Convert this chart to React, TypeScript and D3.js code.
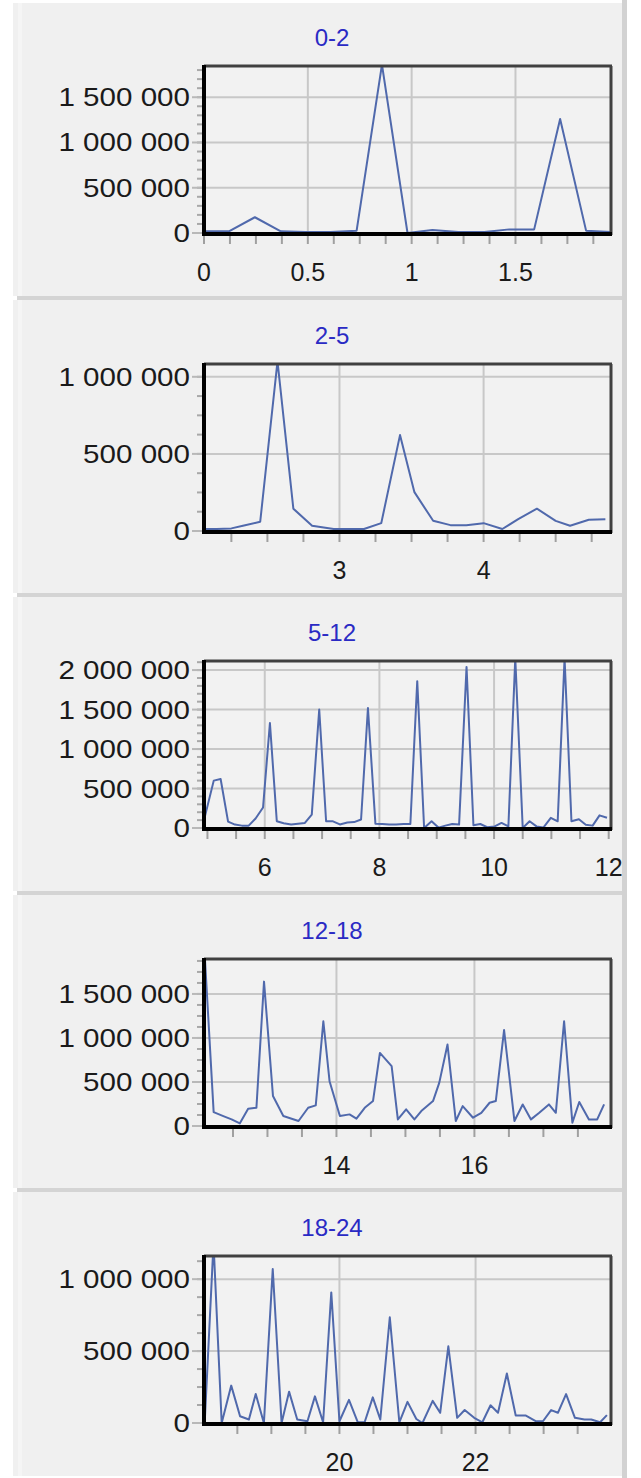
import React from "react";
import * as d3 from "d3";

// ---------- data (hours of day -> value) ----------
const TITLES = ["0-2", "2-5", "5-12", "12-18", "18-24"];

const hours1 = [0, 0.12, 0.245, 0.37, 0.49, 0.61, 0.735, 0.857, 0.98, 1.1, 1.225, 1.35, 1.47, 1.59, 1.715, 1.84, 1.96];
const vals1 = [18000, 18000, 174000, 18000, 10000, 10000, 26000, 1860000, 0, 33000, 10000, 10000, 40000, 40000, 1260000, 26000, 10000];

const hours2 = [2.06, 2.148, 2.25, 2.33, 2.45, 2.57, 2.68, 2.81, 2.96, 3.05, 3.17, 3.29, 3.42, 3.52, 3.65, 3.77, 3.88, 4.0, 4.13, 4.24, 4.37, 4.5, 4.6, 4.73, 4.845];
const vals2 = [13000, 13000, 17000, 34000, 60000, 1100000, 145000, 34000, 13000, 13000, 13000, 51000, 622000, 252000, 66000, 38000, 38000, 51000, 13000, 77000, 145000, 66000, 34000, 73000, 77000];

const hours3 = [4.95, 5.11, 5.23, 5.36, 5.48, 5.6, 5.72, 5.84, 5.97, 6.09, 6.21, 6.33, 6.46, 6.58, 6.7, 6.82, 6.95, 7.07, 7.19, 7.31, 7.44, 7.56, 7.68, 7.8, 7.93, 8.05, 8.17, 8.29, 8.42, 8.54, 8.66, 8.78, 8.91, 9.03, 9.15, 9.27, 9.39, 9.52, 9.64, 9.76, 9.88, 10.01, 10.13, 10.25, 10.37, 10.5, 10.62, 10.74, 10.86, 10.99, 11.11, 11.23, 11.35, 11.48, 11.6, 11.72, 11.84, 11.97];
const vals3 = [130000, 600000, 620000, 80000, 43000, 30000, 30000, 120000, 260000, 1330000, 85000, 60000, 43000, 55000, 64000, 170000, 1500000, 85000, 85000, 45000, 70000, 75000, 107000, 1520000, 55000, 50000, 43000, 45000, 50000, 51000, 1860000, 0, 85000, 5000, 30000, 51000, 43000, 2040000, 34000, 51000, 10000, 20000, 64000, 21000, 2150000, 0, 85000, 20000, 5000, 128000, 85000, 2150000, 85000, 110000, 40000, 30000, 160000, 130000];

const hours4 = [12.09, 12.22, 12.36, 12.48, 12.6, 12.72, 12.84, 12.95, 13.08, 13.23, 13.45, 13.59, 13.7, 13.81, 13.9, 14.05, 14.19, 14.29, 14.41, 14.53, 14.63, 14.8, 14.89, 15.01, 15.13, 15.23, 15.4, 15.49, 15.61, 15.73, 15.83, 15.98, 16.1, 16.22, 16.31, 16.43, 16.58, 16.7, 16.82, 16.94, 17.08, 17.18, 17.3, 17.42, 17.52, 17.66, 17.78, 17.88];
const vals4 = [1950000, 158000, 113000, 75000, 30000, 196000, 207000, 1640000, 340000, 113000, 57000, 207000, 234000, 1190000, 509000, 113000, 132000, 83000, 207000, 283000, 830000, 680000, 75000, 189000, 75000, 170000, 283000, 490000, 925000, 57000, 226000, 94000, 150000, 264000, 283000, 1090000, 57000, 245000, 75000, 150000, 245000, 150000, 1190000, 38000, 272000, 75000, 75000, 245000];

const hours5 = [18.02, 18.15, 18.27, 18.41, 18.54, 18.67, 18.77, 18.89, 19.02, 19.15, 19.26, 19.38, 19.53, 19.64, 19.76, 19.88, 20.0, 20.14, 20.27, 20.37, 20.49, 20.6, 20.74, 20.88, 21.0, 21.13, 21.22, 21.37, 21.48, 21.6, 21.73, 21.84, 21.98, 22.1, 22.22, 22.33, 22.46, 22.59, 22.74, 22.89, 22.99, 23.11, 23.21, 23.33, 23.46, 23.6, 23.7, 23.83, 23.93];
const vals5 = [0, 1250000, 0, 260000, 47000, 24000, 201000, 0, 1070000, 0, 218000, 24000, 12000, 185000, 5000, 908000, 12000, 161000, 5000, 5000, 178000, 24000, 735000, 5000, 147000, 28000, 0, 154000, 71000, 533000, 36000, 90000, 36000, 5000, 123000, 71000, 344000, 52000, 52000, 12000, 12000, 90000, 71000, 201000, 36000, 24000, 24000, 5000, 55000];

const HOURS = [hours1, hours2, hours3, hours4, hours5];
const VALUES = [vals1, vals2, vals3, vals4, vals5];

const X_DOMAINS: [number, number][] = [[0, 1.96], [2.06, 4.884], [4.94, 12.04], [12.08, 17.98], [18.01, 23.99]];
const Y_MAX = [1845000, 1083000, 2115000, 1897000, 1161000];
const X_MAJOR = [0.5, 1, 2, 2, 2];
const X_MINOR = [0.125, 0.25, 0.5, 0.5, 0.5];
const Y_MAJOR = 500000;
const Y_MINOR_DIV = [5, 4, 5, 4, 4];

// ---------- layout ----------
const W = 641;
const H = 1478;
const PANEL_TOPS = [0, 298, 595, 893, 1190];
const PL = 204;
const PR = 611;
const FONT = "'Liberation Sans', Arial, sans-serif";

function ticks(d0: number, d1: number, step: number) {
  const out: number[] = [];
  const start = Math.ceil(d0 / step - 1e-9);
  for (let k = start; k * step <= d1 + 1e-9; k++) out.push(Math.round(k * step * 1e6) / 1e6);
  return out;
}

const fmtY = (v: number) => d3.format(",")(v).replace(/,/g, " ");
const fmtX = (v: number) => String(v);

function Panel({ i }: { i: number }) {
  const top = PANEL_TOPS[i];
  const yZero = top + 233;
  const yTop = top + 66;
  const x = d3.scaleLinear().domain(X_DOMAINS[i]).range([PL, PR]);
  const y = d3.scaleLinear().domain([0, Y_MAX[i]]).range([yZero, yTop]);
  const hs = HOURS[i];
  const line = d3
    .line<number>()
    .x((_, j) => x(hs[j]))
    .y((d) => y(d));
  const [d0, d1] = X_DOMAINS[i];
  const xMaj = ticks(d0, d1, X_MAJOR[i]);
  const xMin = ticks(d0, d1, X_MINOR[i]);
  const yMaj = ticks(0, Y_MAX[i], Y_MAJOR);
  const yMin = ticks(0, Y_MAX[i], Y_MAJOR / Y_MINOR_DIV[i]);
  const clipId = `clip${i}`;
  const bottom = i < 4 ? PANEL_TOPS[i + 1] : H;
  return (
    <g>
      <rect x={13} y={top + (i === 0 ? 3 : 2)} width={610} height={bottom - top - (i === 0 ? 5 : 4)} fill="#f0f0f0" />
      <rect x={18} y={top + (i === 0 ? 3 : 2)} width={4} height={bottom - top - (i === 0 ? 5 : 4)} fill="#f5f5f5" />
      {i > 0 && <rect x={17} y={top - 2} width={607} height={4} fill="#d4d4d4" />}
      <text x={332} y={top + 46} textAnchor="middle" fontSize={24} fill="#2a2ac4" fontFamily={FONT}>
        {TITLES[i]}
      </text>
      <defs>
        <clipPath id={clipId}>
          <rect x={PL} y={yTop} width={PR - PL} height={yZero - yTop} />
        </clipPath>
      </defs>
      <rect x={PL} y={yTop} width={PR - PL} height={yZero - yTop} fill="#f2f2f2" />
      {/* grid */}
      {xMaj.filter((v) => x(v) > PL + 3 && x(v) < PR - 3).map((v) => (
        <line key={"gx" + v} x1={x(v)} x2={x(v)} y1={yTop} y2={yZero} stroke="#c8c8c8" strokeWidth={2} />
      ))}
      {yMaj.filter((v) => v > 0).map((v) => (
        <line key={"gy" + v} x1={PL} x2={PR} y1={y(v)} y2={y(v)} stroke="#c8c8c8" strokeWidth={2} />
      ))}
      {/* y ticks */}
      {yMin.map((v) => (
        <line key={"ym" + v} x1={PL - 7} x2={PL} y1={y(v)} y2={y(v)} stroke="#a8a8a8" strokeWidth={2} />
      ))}
      {yMaj.map((v) => (
        <line key={"yM" + v} x1={PL - 12} x2={PL} y1={y(v)} y2={y(v)} stroke="#b8b8b8" strokeWidth={2} />
      ))}
      {yMaj.map((v) => (
        <text
          key={"yl" + v}
          transform={`translate(190,${y(v) + 9}) scale(1.16,1)`}
          textAnchor="end"
          fontSize={25.5}
          fill="#1a1a1a"
          fontFamily={FONT}
        >
          {fmtY(v)}
        </text>
      ))}
      {/* x ticks */}
      {xMin.map((v) => (
        <line key={"xm" + v} x1={x(v)} x2={x(v)} y1={yZero + 3} y2={yZero + 11} stroke="#a0a0a0" strokeWidth={2} />
      ))}
      {xMaj.map((v) => (
        <text key={"xl" + v} x={x(v)} y={top + 281} textAnchor="middle" fontSize={25} fill="#1a1a1a" fontFamily={FONT}>
          {fmtX(v)}
        </text>
      ))}
      {/* series */}
      <g clipPath={`url(#${clipId})`}>
        <path d={line(VALUES[i]) || ""} fill="none" stroke="#5069ac" strokeWidth={2} strokeLinejoin="round" />
      </g>
      {/* frame */}
      <line x1={PL} x2={PR + 1} y1={yTop} y2={yTop} stroke="#404040" strokeWidth={3} />
      <line x1={PR} x2={PR} y1={yTop} y2={yZero + 2} stroke="#404040" strokeWidth={3} />
      <line x1={PL} x2={PL} y1={yTop - 1} y2={yZero + 3} stroke="#000" strokeWidth={4} />
      <line x1={PL - 2} x2={PR + 1} y1={yZero + 1} y2={yZero + 1} stroke="#000" strokeWidth={4} />
    </g>
  );
}

export default function App() {
  return (
    <svg width={W} height={H} style={{ position: "absolute", left: 0, top: 0, display: "block" }}>
      <rect width={W} height={H} fill="#ffffff" />
      {TITLES.map((_, i) => (
        <Panel key={i} i={i} />
      ))}
      <rect x={622} y={0} width={5} height={H} fill="#d2d2d2" />
    </svg>
  );
}
